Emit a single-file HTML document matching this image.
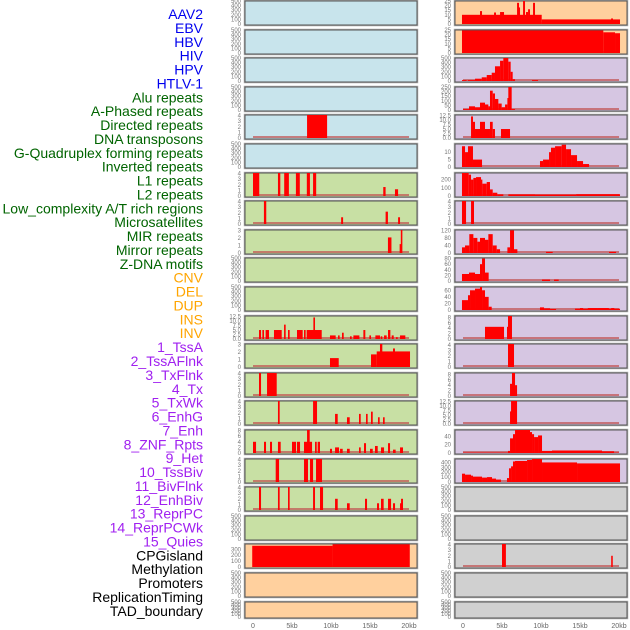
<!DOCTYPE html>
<html><head><meta charset="utf-8">
<style>
html,body{margin:0;padding:0;background:#fff;}
svg{display:block;}
text{font-family:"Liberation Sans",sans-serif;}
</style></head>
<body>
<svg id="chart" width="630" height="630" viewBox="0 0 630 630" xmlns="http://www.w3.org/2000/svg"></svg>
<script>
const labels = ["AAV2","EBV","HBV","HIV","HPV","HTLV-1","Alu repeats","A-Phased repeats","Directed repeats","DNA transposons","G-Quadruplex forming repeats","Inverted repeats","L1 repeats","L2 repeats","Low_complexity A/T rich regions","Microsatellites","MIR repeats","Mirror repeats","Z-DNA motifs","CNV","DEL","DUP","INS","INV","1_TssA","2_TssAFlnk","3_TxFlnk","4_Tx","5_TxWk","6_EnhG","7_Enh","8_ZNF_Rpts","9_Het","10_TssBiv","11_BivFlnk","12_EnhBiv","13_ReprPC","14_ReprPCWk","15_Quies","CPGisland","Methylation","Promoters","ReplicationTiming","TAD_boundary"];
const labelGroups = [0,0,0,0,0,0,1,1,1,1,1,1,1,1,1,1,1,1,1,2,2,2,2,2,3,3,3,3,3,3,3,3,3,3,3,3,3,3,3,4,4,4,4,4];
const groupColors = ["#0000ee","#006400","#ffa500","#a020f0","#000000"];
const xTicks = [0,5,10,15,20];
const xTickLabels = ["0","5kb","10kb","15kb","20kb"];
const E = [0,100,200,300,400,500];
const leftColors = ["b","b","b","b","b","b","g","g","g","g","g","g","g","g","g","g","g","g","g","o","o","o"];
const rightColors = ["o","o","p","p","p","p","p","p","p","p","p","p","p","p","p","p","p","y","y","y","y","y"];
const leftMax = [500,500,500,500,4.1,500,4.1,4.1,3.1,500,500,12.8,3.1,4.1,4.1,8.2,4.1,4.1,500,390,500,500];
const leftTicks = [E,E,E,E,[0,1,2,3,4],E,[0,1,2,3,4],[0,1,2,3,4],[0,1,2,3],E,E,[0,2.5,5,7.5,10,12.5],[0,1,2,3],[0,1,2,3,4],[0,1,2,3,4],[0,2,4,6,8],[0,1,2,3,4],[0,1,2,3,4],E,[0,100,200,300],E,E];
const leftSegs = [[],[],[],[],
[[6.93,9.5,4.1]],
[],
[[0,0.8,4.1],[3.2,3.5,4.1],[4.0,4.6,4.1],[5.5,6.0,4.1],[6.9,7.3,4.1],[7.7,8.1,4.1],[16.7,17.0,1.6],[18.2,18.6,1.2]],
[[1.4,1.7,4.1],[11.3,11.55,1.2],[17.0,17.3,2.2],[18.6,18.85,1.2]],
[[17.3,17.75,2.1],[18.8,19.0,1.2],[18.95,19.15,3.1]],
[],[],
[[0.77,1.03,5],[1.2,1.41,5],[1.62,2.05,5],[2.69,3.68,5],[3.98,4.19,8],[4.49,4.7,5],[5.64,6.37,5],[6.54,6.75,5],[6.88,8.81,5],[7.74,7.95,12],[9.87,10.6,2],[10.9,11.11,2],[11.41,11.63,3.5],[12.44,12.65,1.5],[12.87,13.64,2],[14.15,14.4,5],[14.92,15.13,2],[15.69,16.28,2],[16.37,16.58,1.5],[16.8,17.14,2],[17.31,17.61,5],[17.78,18.04,2],[18.34,18.55,1],[18.85,19.53,2]],
[[9.87,10.99,1.2],[15.13,15.86,1.7],[15.86,20.13,2.1],[16.28,16.58,3.1],[17.95,18.2,2.5]],
[[0.77,1.03,4.1],[1.8,3.04,4.1]],
[[3.2,3.42,4.1],[7.7,8.21,4.1],[10.52,10.86,1.8],[12.05,12.4,1.2],[13.59,13.81,1.8],[14.49,14.7,1.8],[15.13,15.35,2.2],[16.03,16.24,1.2],[16.67,16.88,1.2]],
[[0,0.39,4],[1.41,1.67,4],[2.18,2.44,4],[3.2,3.55,4],[5.0,5.52,4],[5.64,6.03,4],[6.54,7.57,4],[6.93,7.27,8.2],[7.95,8.17,4],[8.29,8.59,4],[9.87,10.13,1.5],[10.52,11.03,2],[11.16,11.5,1.5],[12.05,12.4,1.5],[13.59,13.81,2],[14.23,14.49,3.5],[15.0,15.35,1.5],[15.64,15.99,2.5],[16.41,16.8,2],[17.31,17.57,3.5],[17.95,18.29,1.2],[18.85,19.23,2]],
[[2.91,3.34,4.1],[6.54,7.05,4.1],[7.31,7.7,4.1],[8.08,8.85,4.1]],
[[0.77,1.03,4.1],[3.2,3.42,4.1],[4.49,4.7,4.1],[7.7,7.95,4.1],[8.59,8.98,4.1],[10.52,10.86,2],[12.05,12.4,1.2],[14.36,14.62,2],[15.9,16.16,1.2],[16.41,16.75,2],[17.31,17.7,2],[17.95,18.21,1.2],[18.85,19.11,1.2],[18.98,19.23,2]],
[],
[[-0.1,10.2,360],[10.2,20.1,385]],
[],[]];
const rightMax = [25,25,500,250,12.8,15.5,280,4.1,122,82,70,8.5,4.2,8.5,12.8,55,470,500,500,4.1,500,500];
const rightTicks = [[0,5,10,15,20,25],[0,5,10,15,20,25],E,[0,50,100,150,200,250],[0,2.5,5,7.5,10,12.5],[0,5,10],[0,100,200],[0,1,2,3,4],[0,40,80,120],[0,20,40,60,80],[0,20,40,60],[0,2,4,6,8],[0,1,2,3,4],[0,2,4,6,8],[0,2.5,5,7.5,10,12.5],[0,20,40],[0,100,200,300,400],E,E,[0,1,2,3,4],E,E];
const rightSegs = [
[[-0.13,10.09,10],[10.09,20.13,5],[2.18,2.44,14],[3.98,4.23,12.5],[4.75,5.26,13],[6.93,7.18,23],[7.18,7.31,18],[7.7,7.95,26],[8.08,8.34,13],[8.34,8.59,16],[8.98,9.23,23],[18.98,19.23,6]],
[[-0.13,17.99,24.5],[17.99,19.49,22.5],[19.49,20.13,21.5]],
[[-0.13,0.47,20],[0.6,1.54,20],[1.54,2.4,50],[2.4,3.04,80],[3.04,3.68,130],[3.68,4.1,180],[4.1,4.75,320],[4.75,5.17,440],[5.17,5.81,500],[5.81,6.11,420],[6.11,6.37,200],[6.37,6.67,40],[8.85,9.62,20]],
[[0,0.77,10],[0.77,1.54,40],[1.54,2.18,30],[2.18,2.82,80],[2.82,3.25,60],[3.25,3.46,40],[3.46,3.81,210],[3.81,4.1,180],[4.1,4.53,120],[4.53,4.96,70],[4.96,5.39,30],[5.39,5.69,60],[5.69,5.9,130],[5.81,6.24,250],[6.24,6.67,10]],
[[1.03,1.28,12],[1.28,1.54,9],[1.54,2.18,5],[2.18,2.82,9],[2.82,3.46,5],[3.46,3.81,9],[3.81,4.1,5],[4.87,6.03,5]],
[[-0.13,0.26,14],[0.26,0.64,10],[0.64,1.28,14],[1.28,2.44,5],[9.87,10.26,4],[10.26,11.03,5],[11.03,11.28,10],[11.28,11.8,13],[11.8,12.65,14],[12.65,13.21,15],[13.21,13.85,12],[13.85,14.62,8],[14.62,15.39,4],[15.39,16.16,2]],
[[-0.13,0.73,280],[0.73,1.03,260],[1.03,1.33,200],[1.33,1.67,220],[1.67,2.31,230],[2.31,2.48,200],[2.48,3.04,150],[3.04,3.46,170],[3.46,3.81,80],[3.81,4.4,40],[4.4,5.17,20],[5.81,9.23,20],[9.23,14.5,18],[14.5,20.13,22]],
[[-0.13,0.39,4.1],[1.03,1.41,4.1]],
[[-0.13,0.26,30],[0.26,0.81,40],[0.81,1.33,100],[1.33,1.84,80],[1.84,2.18,60],[2.18,2.82,80],[2.82,3.25,70],[3.25,3.81,100],[3.81,4.32,40],[4.32,4.75,20],[5.69,6.03,30],[6.03,6.54,120],[6.54,6.97,20],[10.64,11.5,6],[18.72,19.62,6]],
[[-0.13,0.77,25],[0.77,1.54,30],[1.54,2.18,25],[2.18,2.44,60],[2.44,2.82,80],[2.82,3.29,30],[10.13,11.16,5],[11.67,12.27,5]],
[[-0.13,0.64,30],[0.64,0.9,45],[0.9,1.54,60],[1.54,2.18,65],[2.18,2.44,70],[2.44,2.82,60],[2.82,3.29,40],[3.29,3.68,10],[9.87,10.39,8],[10.39,11.16,5],[11.16,11.93,3],[14.36,20.13,4],[15.0,15.4,6],[16.0,17.3,6],[17.3,18.7,6],[19.0,19.4,6]],
[[2.82,5.26,4.5],[5.64,5.81,4.5],[5.77,6.28,8.5]],
[[5.77,6.54,4.2]],
[[6.03,6.28,4.5],[6.28,6.67,8.5],[6.67,6.93,4]],
[[6.03,6.28,7],[6.16,6.93,12.8]],
[[0,5.77,1],[5.77,6.03,5],[6.03,6.41,35],[6.41,6.67,45],[6.67,8.59,55],[8.59,8.85,50],[8.85,9.11,45],[9.11,9.62,38],[9.62,10.13,42],[10.13,11.41,5],[11.41,17.82,6],[17.82,19.36,4],[19.36,20,1]],
[[-0.13,0.26,170],[0.26,1.03,150],[1.03,1.28,130],[1.28,2.44,110],[2.44,3.08,90],[3.08,3.72,100],[3.72,4.23,70],[4.23,4.87,50],[5.64,5.9,80],[5.9,6.16,280],[6.16,6.41,320],[6.41,6.67,420],[6.67,8.21,430],[8.21,8.85,450],[8.85,10.13,470],[10.13,14.62,400],[14.62,20.13,380]],
[],[],
[[5.0,5.5,4.1],[19.0,19.2,2]],
[],[]];

const NS = "http://www.w3.org/2000/svg";
const svg = document.getElementById("chart");
const fills = {b:"#c8e4ec",g:"#c8e0a4",o:"#ffd09e",p:"#d6c6e2",y:"#d0d0d0"};
function el(tag, attrs, parent){const e=document.createElementNS(NS,tag);for(const k in attrs)e.setAttribute(k,attrs[k]);(parent||svg).appendChild(e);return e;}
function rowTop(i){return Math.round(i*28.6);}
function rowH(i){return i===21?17:25;}

// labels
labels.forEach((t,i)=>{
  const tx = el("text",{x:203,y:14+i*13.88+5,"text-anchor":"end","font-size":"14",fill:groupColors[labelGroups[i]]});
  
  
  tx.textContent=t;
});

function drawColumn(side, px0, zeroX, colors, maxes, ticks, segs){
  const pxPerKb = 7.8;
  const xs = kb => zeroX + kb*pxPerKb;
  for(let i=0;i<22;i++){
    const top=rowTop(i), h=rowH(i), left=px0, w=172;
    const g = el("g",{});
    
    
    el("rect",{x:left-0.5,y:top+0.5,width:w+1,height:h,fill:"none",stroke:"#aaa","stroke-width":1.5},g);
    el("rect",{x:left,y:top+1,width:w,height:h-1,fill:fills[colors[i]],stroke:"#555","stroke-width":1},g);
    const max=maxes[i];
    const ys = v => top+h-1 - Math.min(v,max)/max*(h-2);
    const clipId = side+"clip"+i;
    const cp = el("clipPath",{id:clipId},g);
    el("rect",{x:left,y:top+1,width:w,height:h-1},cp);
    const bars = el("g",{"clip-path":"url(#"+clipId+")"},g);
    if(segs[i].length){
      el("rect",{x:xs(0),y:top+h-3,width:xs(20)-xs(0),height:2,fill:"#c05050","fill-opacity":0.7},bars);
    }
    segs[i].forEach(s=>{
      const y=ys(s[2]);
      const r = el("rect",{x:xs(s[0]),y:y,width:Math.max(0.8,xs(s[1])-xs(s[0])),height:top+h-1-y,fill:"#ff0000"},bars);
      
      
    });
    ticks[i].forEach(v=>{
      const t = el("text",{x:left-4,y:ys(v)+2,"text-anchor":"end","font-size":"6",fill:"#777"},g);
      
      
      t.textContent = (ticks[i].indexOf(2.5)>=0) ? v.toFixed(1) : String(v);
    });
  }
  xTicks.forEach((v,k)=>{
    const t = el("text",{x:xs(v),y:628,"text-anchor":"middle","font-size":"7",fill:"#666"});
    
    
    t.textContent = xTickLabels[k];
  });
}
drawColumn("left",245,253,leftColors,leftMax,leftTicks,leftSegs);
drawColumn("right",455,463,rightColors,rightMax,rightTicks,rightSegs);
</script>
</body></html>
